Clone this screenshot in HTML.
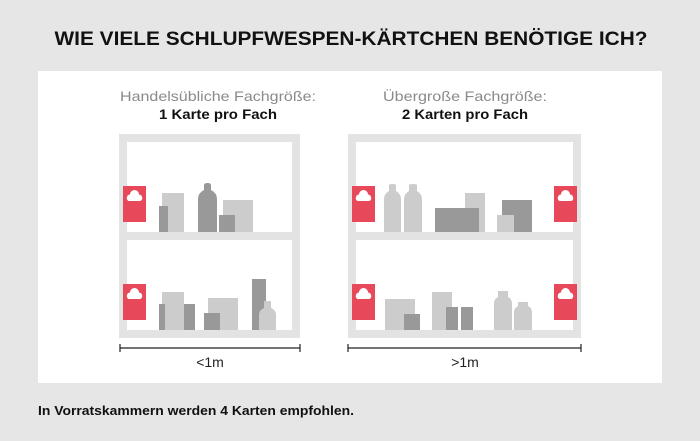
<!DOCTYPE html>
<html><head><meta charset="utf-8"><style>
html,body{margin:0;padding:0;background:#e6e6e6;}
svg{display:block;font-family:"Liberation Sans",sans-serif;}
</style></head><body>
<svg width="700" height="441" viewBox="0 0 700 441" xmlns="http://www.w3.org/2000/svg">
<rect width="700" height="441" fill="#e6e6e6"/>
<text x="351" y="45" font-size="19" font-weight="bold" fill="#111" text-anchor="middle" textLength="593" lengthAdjust="spacingAndGlyphs">WIE VIELE SCHLUPFWESPEN-KÄRTCHEN BENÖTIGE ICH?</text>
<rect x="38" y="71" width="624" height="312" fill="#fff"/>
<text x="218" y="101" font-size="14" fill="#8a8a8a" text-anchor="middle" textLength="196" lengthAdjust="spacingAndGlyphs">Handelsübliche Fachgröße:</text>
<text x="218" y="119" font-size="14" font-weight="bold" fill="#111" text-anchor="middle" textLength="118" lengthAdjust="spacingAndGlyphs">1 Karte pro Fach</text>
<text x="465" y="101" font-size="14" fill="#8a8a8a" text-anchor="middle" textLength="164" lengthAdjust="spacingAndGlyphs">Übergroße Fachgröße:</text>
<text x="465" y="119" font-size="14" font-weight="bold" fill="#111" text-anchor="middle" textLength="126" lengthAdjust="spacingAndGlyphs">2 Karten pro Fach</text>
<defs>
<g id="card"><rect x="0" y="0" width="23" height="36" fill="#e8495a"/><path d="M5.5 15 a3.5 3.5 0 0 1 1.5-6.5 a4.5 4.5 0 0 1 9 0 a3.5 3.5 0 0 1 1.5 6.5 z" fill="#fff"/></g>
</defs>
<!-- left shelf -->
<g fill="#e3e3e3">
<rect x="119" y="134" width="181" height="8"/><rect x="119" y="330" width="181" height="8"/>
<rect x="119" y="134" width="8" height="204"/><rect x="292" y="134" width="8" height="204"/>
<rect x="119" y="232" width="181" height="8"/>
<rect x="348" y="134" width="233" height="8"/><rect x="348" y="330" width="233" height="8"/>
<rect x="348" y="134" width="8" height="204"/><rect x="573" y="134" width="8" height="204"/>
<rect x="348" y="232" width="233" height="8"/>
</g>
<g>
<rect x="162" y="193" width="22" height="39" fill="#cccccc"/>
<rect x="159" y="206" width="9" height="26" fill="#999"/>
<path d="M198 232 V199 Q198 193 204 190 V185 Q204 183 207.5 183 Q211 183 211 185 V190 Q217 193 217 199 V232 Z" fill="#999"/>
<rect x="223" y="200" width="30" height="32" fill="#ccc"/>
<rect x="219" y="215" width="16" height="17" fill="#999"/>
<rect x="162" y="292" width="22" height="38" fill="#ccc"/>
<rect x="159" y="304" width="6" height="26" fill="#999"/>
<rect x="184" y="304" width="11" height="26" fill="#999"/>
<rect x="208" y="298" width="30" height="32" fill="#ccc"/>
<rect x="204" y="313" width="16" height="17" fill="#999"/>
<rect x="252" y="279" width="14" height="51" fill="#999"/>
<path d="M259 330 V315 Q259 310 264 308 V301 H271 V308 Q276 310 276 315 V330 Z" fill="#ccc"/>
</g>
<use href="#card" x="123" y="186"/><use href="#card" x="123" y="284"/>
<!-- right shelf items -->
<g fill="#ccc">
<path d="M384 232 V199 Q384 194 389 191 V185 Q389 184 392.5 184 Q396 184 396 185 V191 Q401 194 401 199 V232 Z"/>
<path d="M404 232 V199 Q404 194 409 191 V185 Q409 184 413 184 Q417 184 417 185 V191 Q422 194 422 199 V232 Z"/>
<rect x="465" y="193" width="20" height="39"/>
<rect x="385" y="299" width="30" height="31"/>
<rect x="432" y="292" width="20" height="38"/>
<path d="M494 330 V303 Q494 299 498 297 V291 H508 V297 Q512 299 512 303 V330 Z"/>
<path d="M514 330 V312 Q514 308 518 306 V302 H528 V306 Q532 308 532 312 V330 Z"/>
</g>
<g fill="#999">
<rect x="435" y="208" width="44" height="24"/>
<rect x="502" y="200" width="30" height="32"/>
<rect x="404" y="314" width="16" height="16"/>
<rect x="446" y="307" width="12" height="23"/>
<rect x="461" y="307" width="12" height="23"/>
</g>
<rect x="497" y="215" width="17" height="17" fill="#ccc"/>
<use href="#card" x="352" y="186"/><use href="#card" x="352" y="284"/>
<use href="#card" x="554" y="186"/><use href="#card" x="554" y="284"/>
<!-- measure -->
<g stroke="#222" stroke-width="1.2">
<line x1="120" y1="348" x2="300" y2="348"/><line x1="120" y1="344" x2="120" y2="352"/><line x1="300" y1="344" x2="300" y2="352"/>
<line x1="348" y1="348" x2="581" y2="348"/><line x1="348" y1="344" x2="348" y2="352"/><line x1="581" y1="344" x2="581" y2="352"/>
</g>
<text x="210" y="367" font-size="14" fill="#222" text-anchor="middle">&lt;1m</text>
<text x="465" y="367" font-size="14" fill="#222" text-anchor="middle">&gt;1m</text>
<text x="38" y="415" font-size="13" font-weight="bold" fill="#111" textLength="316" lengthAdjust="spacingAndGlyphs">In Vorratskammern werden 4 Karten empfohlen.</text>
</svg>
</body></html>
